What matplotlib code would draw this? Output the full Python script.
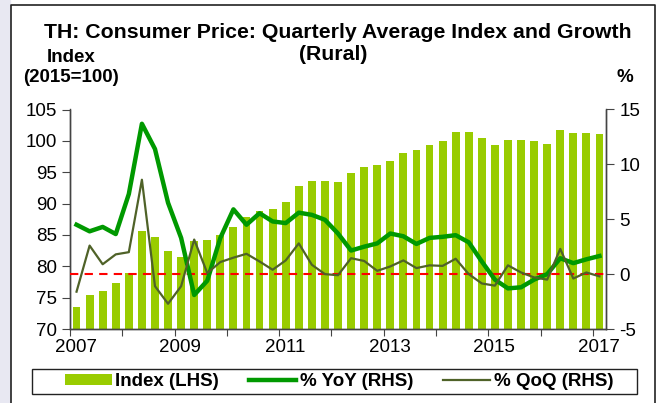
import matplotlib.pyplot as plt
import numpy as np
from matplotlib.lines import Line2D
from matplotlib.patches import Rectangle

plt.rcParams['font.family'] = ['Liberation Sans', 'DejaVu Sans']
plt.rcParams['axes.unicode_minus'] = False

# quarterly data, 2007Q1 .. 2017Q1
start_year = 2007
index_lhs = [73.5, 75.4, 76.0, 77.4, 79.0, 85.6, 84.7, 82.4, 81.5, 84.0,
             84.2, 85.0, 86.3, 87.9, 88.8, 89.1, 90.3, 92.75, 93.6, 93.6,
             93.4, 94.8, 95.9, 96.1, 96.8, 98.05, 98.5, 99.3, 100.0, 101.4,
             101.4, 100.5, 99.4, 100.2, 100.2, 99.9, 99.5, 101.7, 101.2, 101.25,
             101.1]
yoy = [4.5, 3.9, 4.3, 3.65, 7.3, 13.7, 11.4, 6.5, 3.3, -1.9,
       -0.6, 3.3, 5.9, 4.5, 5.55, 4.8, 4.65, 5.6, 5.4, 4.95,
       3.7, 2.15, 2.5, 2.8, 3.7, 3.45, 2.75, 3.3, 3.4, 3.55,
       2.9, 1.15, -0.5, -1.3, -1.2, -0.5, 0.0, 1.45, 1.0, 1.35,
       1.65]
qoq = [-1.6, 2.6, 0.9, 1.8, 2.0, 8.6, -1.1, -2.7, -1.1, 3.15,
       0.1, 1.1, 1.5, 1.85, 1.15, 0.4, 1.25, 2.8, 0.85, 0.0,
       -0.1, 1.45, 1.2, 0.3, 0.7, 1.25, 0.55, 0.8, 0.75, 1.4,
       0.0, -0.85, -1.05, 0.8, 0.15, -0.3, -0.5, 2.3, -0.4, 0.15,
       -0.2]
year_labels = ['2007', '2009', '2011', '2013', '2015', '2017']

x = start_year + 0.125 + 0.25 * np.arange(len(index_lhs))

fig = plt.figure(figsize=(6.62, 4.03), dpi=100)

# light strip at the left edge and the outer frame
fig.patches.append(Rectangle((0, 0), 10 / 662, 1, transform=fig.transFigure,
                             color='#e8e8f2', zorder=0))
fig.lines.append(Line2D([11 / 662, 11 / 662, 655 / 662, 655 / 662],
                        [0, 1 - 5 / 403, 1 - 5 / 403, 0],
                        transform=fig.transFigure, color='#222222', lw=1.2))
# legend box (drawn separately, wider than the legend content)
fig.patches.append(Rectangle((32 / 662, 1 - 394 / 403), 605 / 662, 25 / 403,
                             transform=fig.transFigure, facecolor='white',
                             edgecolor='#222222', lw=1.0, zorder=1))

ax = fig.add_axes([70 / 662, 1 - 329 / 403, 536 / 662, 219.5 / 403])
ax2 = ax.twinx()

ax.bar(x, index_lhs, width=0.15, color='#99cc00', label='Index (LHS)', zorder=2)
ax.set_ylim(70, 105)
ax.set_yticks(np.arange(70, 106, 5))
ax.set_xlim(2007, 2017.25)

ax2.axhline(0, color='red', ls=(0, (4, 3)), lw=1.5, zorder=3)
ax2.plot(x, yoy, color='#009900', lw=3.2, label='% YoY (RHS)', zorder=4)
ax2.plot(x, qoq, color='#4f6228', lw=1.6, label='% QoQ (RHS)', zorder=5)
ax2.set_ylim(-5, 15)
ax2.set_yticks(np.arange(-5, 16, 5))

# yearly ticks, labels every other year (shifted to mid of Q1)
ax.set_xticks(np.arange(2007, 2018))
ax.set_xticklabels([])
ax.set_xticks([int(y) + 0.11 for y in year_labels], minor=True)
ax.set_xticklabels(year_labels, minor=True)
ax.tick_params(axis='x', which='major', direction='out', length=5, color='#444444')
ax.tick_params(axis='x', which='minor', length=0, pad=7, labelsize=13.5)
ax.tick_params(axis='y', direction='out', length=6, color='#444444', labelsize=13.5)
ax2.tick_params(axis='y', direction='out', length=6, color='#444444', labelsize=13.5)

for a in (ax, ax2):
    a.spines['top'].set_visible(False)
    for s in ('left', 'right', 'bottom'):
        a.spines[s].set_color('#444444')
        a.spines[s].set_linewidth(1.0)
ax.set_zorder(ax2.get_zorder() - 1)
ax2.patch.set_visible(False)

fig.text(338 / 662, 1 - 32 / 403, 'TH: Consumer Price: Quarterly Average Index and Growth',
         ha='center', va='center', fontsize=15.3, fontweight='bold')
fig.text(333 / 662, 1 - 54 / 403, '(Rural)', ha='center', va='center',
         fontsize=15.3, fontweight='bold')
fig.text(71 / 662, 1 - 57 / 403, 'Index', ha='center', va='center',
         fontsize=13.5, fontweight='bold')
fig.text(71 / 662, 1 - 78 / 403, '(2015=100)', ha='center', va='center',
         fontsize=13.5, fontweight='bold')
fig.text(625 / 662, 1 - 78 / 403, '%', ha='center', va='center',
         fontsize=13.5, fontweight='bold')

h1, l1 = ax.get_legend_handles_labels()
h2, l2 = ax2.get_legend_handles_labels()
leg = fig.legend(h1 + h2, l1 + l2, loc='center', ncol=3,
                 bbox_to_anchor=(339 / 662, 1 - 381.5 / 403),
                 prop={'weight': 'bold', 'size': 13.5}, frameon=False,
                 handlelength=2.5, handleheight=0.5, handletextpad=0.2,
                 columnspacing=1.6, borderpad=0.25, borderaxespad=0)
leg.set_zorder(2)

fig.savefig('out.png', dpi=100)
